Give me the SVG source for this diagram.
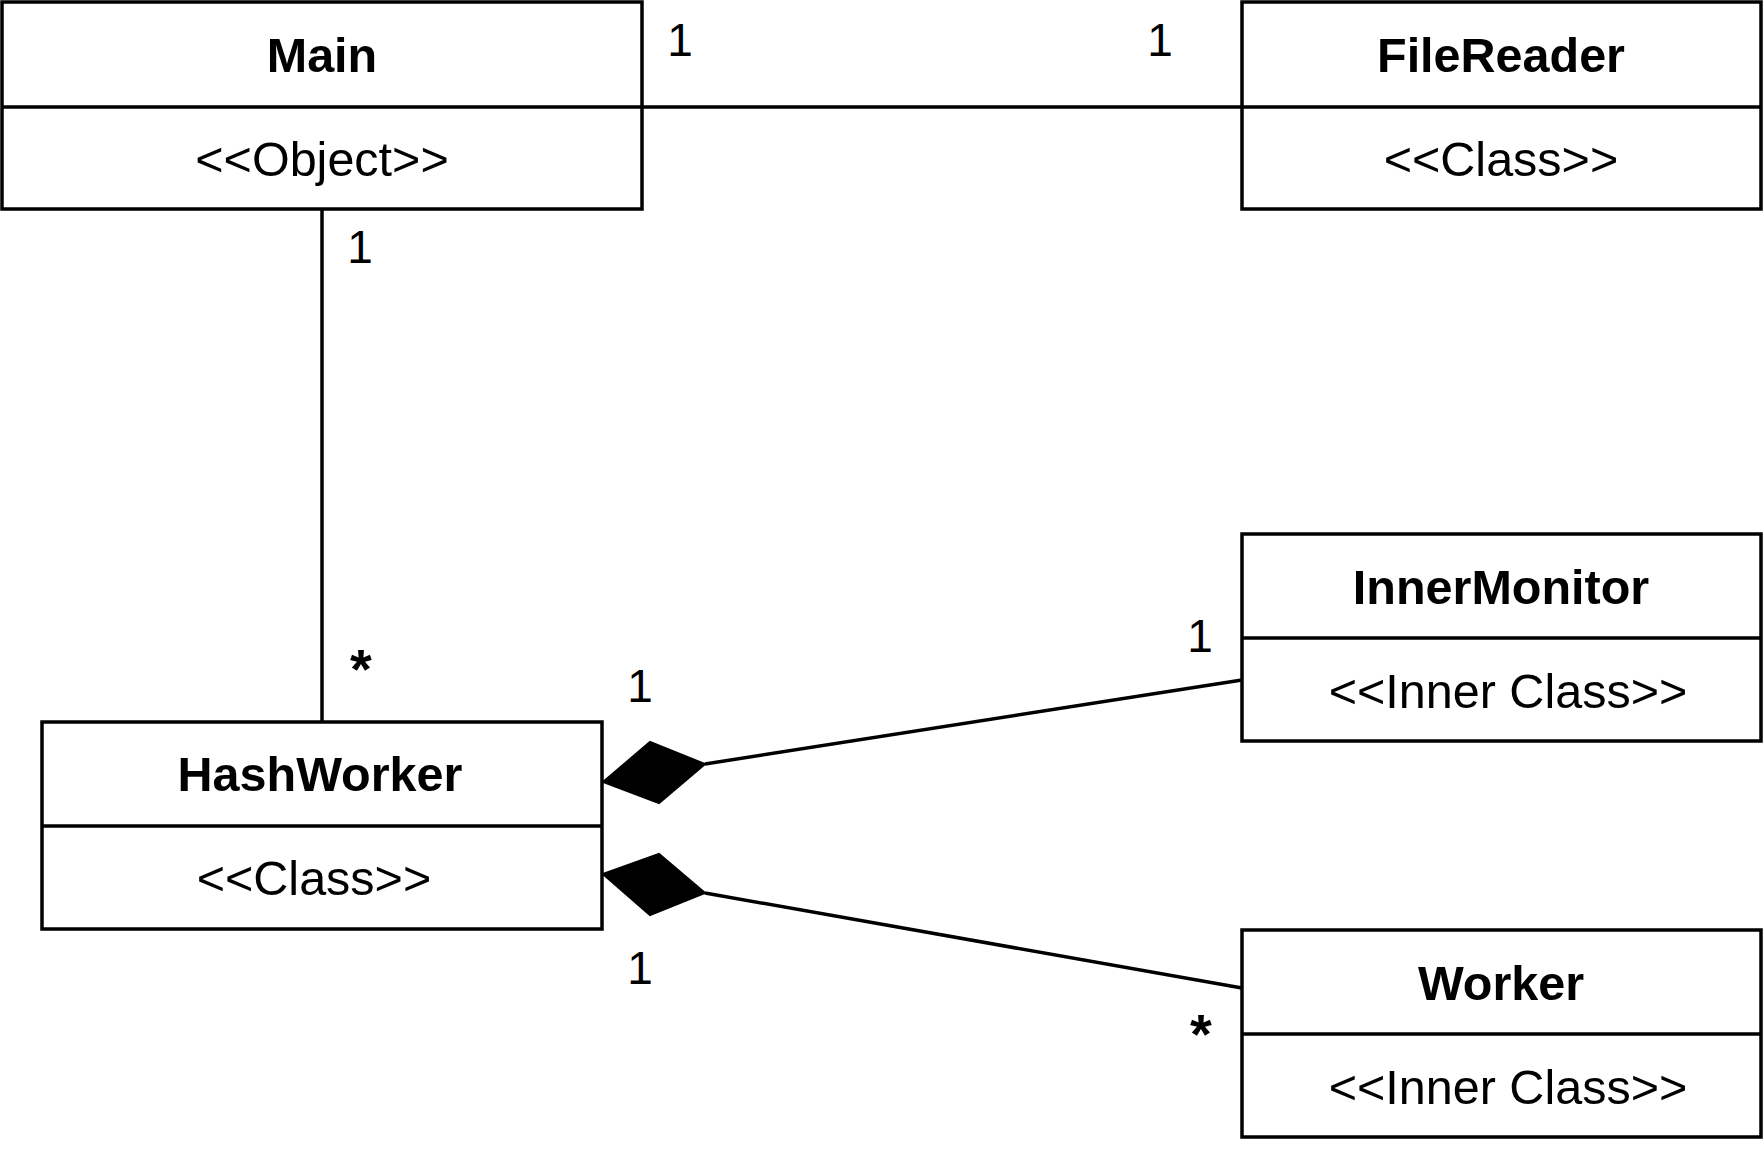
<svg xmlns="http://www.w3.org/2000/svg" width="1764" height="1152" viewBox="0 0 1764 1152">
<style>
.box{fill:#fff;stroke:#000;stroke-width:3.5}
.div{stroke:#000;stroke-width:3.5}
.title{font-family:"Liberation Sans",Arial,sans-serif;font-weight:bold;font-size:48.5px;text-anchor:middle;fill:#000}
.st{font-family:"Liberation Sans",Arial,sans-serif;font-size:48.5px;text-anchor:middle;fill:#000}
.lbl{font-family:"Liberation Sans",Arial,sans-serif;font-size:46px;text-anchor:middle;fill:#000}
.star{font-family:"Liberation Sans",Arial,sans-serif;font-size:56px;font-weight:bold;text-anchor:middle;fill:#000}
.edge{fill:none;stroke:#000;stroke-width:3.5}
.dia{fill:#000;stroke:#000;stroke-width:2}
</style>
<rect width="1764" height="1152" fill="#fff"/>
<g id="connectors">
  <line class="edge" x1="642" y1="107" x2="1242" y2="107"/>
  <line class="edge" x1="322" y1="209" x2="322" y2="722"/>
  <line class="edge" x1="705" y1="764" x2="1242" y2="680"/>
  <polygon class="dia" points="603,782 650,742 705,764 659,803"/>
  <line class="edge" x1="705" y1="893" x2="1242" y2="988"/>
  <polygon class="dia" points="603,874 659,854 705,893 650,915"/>
  <text class="lbl" x="680" y="56">1</text>
  <text class="lbl" x="1160" y="56">1</text>
  <text class="lbl" x="360" y="263">1</text>
  <text class="star" x="361" y="688">*</text>
  <text class="lbl" x="1200" y="652">1</text>
  <text class="lbl" x="640" y="702">1</text>
  <text class="lbl" x="640" y="984">1</text>
  <text class="star" x="1201" y="1053">*</text>
</g>
<g id="Main">
  <rect class="box" x="2" y="2" width="640" height="207"/>
  <line class="div" x1="2" y1="107" x2="642" y2="107"/>
  <text class="title" x="322" y="72">Main</text>
  <text class="st" x="322" y="176">&lt;&lt;Object&gt;&gt;</text>
</g>
<g id="FileReader">
  <rect class="box" x="1242" y="2" width="519" height="207"/>
  <line class="div" x1="1242" y1="107" x2="1761" y2="107"/>
  <text class="title" x="1501" y="72">FileReader</text>
  <text class="st" x="1501" y="176">&lt;&lt;Class&gt;&gt;</text>
</g>
<g id="HashWorker">
  <rect class="box" x="42" y="722" width="560" height="207"/>
  <line class="div" x1="42" y1="826" x2="602" y2="826"/>
  <text class="title" x="320" y="791">HashWorker</text>
  <text class="st" x="314" y="895">&lt;&lt;Class&gt;&gt;</text>
</g>
<g id="InnerMonitor">
  <rect class="box" x="1242" y="534" width="519" height="207"/>
  <line class="div" x1="1242" y1="638" x2="1761" y2="638"/>
  <text class="title" x="1501" y="604">InnerMonitor</text>
  <text class="st" x="1508" y="708">&lt;&lt;Inner Class&gt;&gt;</text>
</g>
<g id="Worker">
  <rect class="box" x="1242" y="930" width="519" height="207"/>
  <line class="div" x1="1242" y1="1034" x2="1761" y2="1034"/>
  <text class="title" x="1501" y="1000">Worker</text>
  <text class="st" x="1508" y="1104">&lt;&lt;Inner Class&gt;&gt;</text>
</g>
</svg>
